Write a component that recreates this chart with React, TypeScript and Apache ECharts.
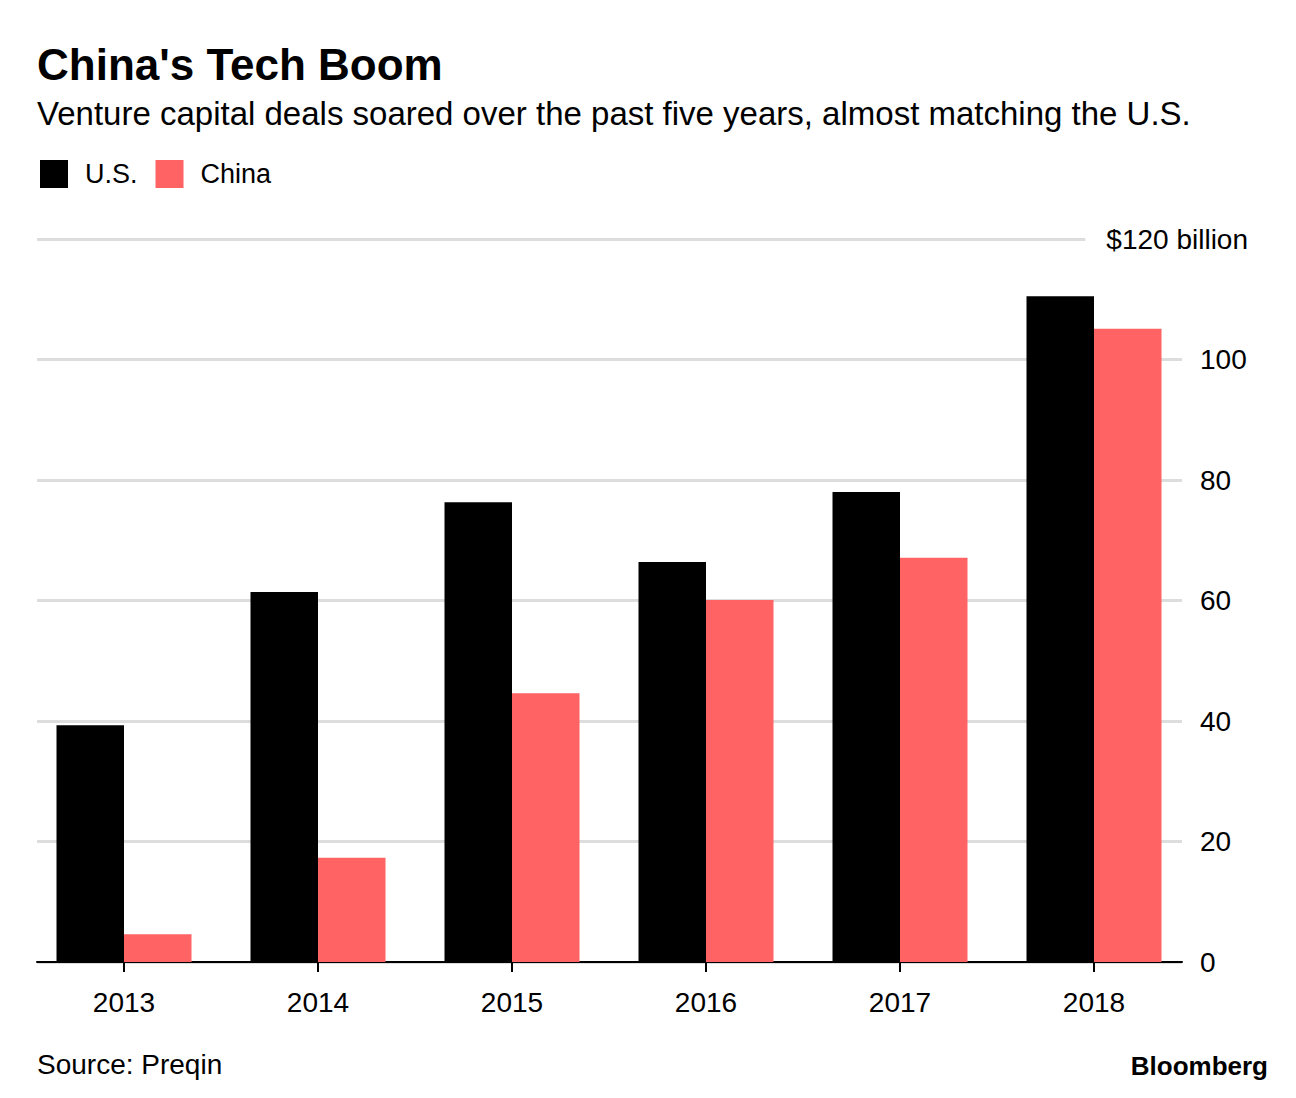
import React, { useEffect, useRef } from "react";
import * as echarts from "echarts";

const years = ["2013", "2014", "2015", "2016", "2017", "2018"];
const usValues = [39.3, 61.4, 76.3, 66.4, 78.0, 110.5];
const chinaValues = [4.6, 17.3, 44.6, 60.1, 67.1, 105.1];
const seriesNames = ["U.S.", "China"];
const yMax = 120;
const yStep = 20;

const FONT = "'Liberation Sans', Arial, Helvetica, sans-serif";

export default function App() {
  const ref = useRef<HTMLDivElement>(null);
  useEffect(() => {
    document.body.style.margin = "0";
    if (!ref.current) return;
    const chart = echarts.init(ref.current, null, { renderer: "svg" });
    chart.setOption({
      animation: false,
      backgroundColor: "#fff",
      textStyle: { fontFamily: FONT },
      legend: {
        left: 40,
        top: 160,
        padding: 0,
        itemWidth: 28,
        itemHeight: 28,
        itemGap: 18,
        icon: "rect",
        data: seriesNames,
        textStyle: { fontSize: 27, color: "#000", fontFamily: FONT, padding: [0, 0, 0, 12] },
      },
      grid: [
        { left: 37, right: 114, top: 239, bottom: 136 },
        { left: 27, right: 105, top: 239, bottom: 136 },
      ],
      xAxis: [
        {
          gridIndex: 0,
          type: "category",
          data: years,
          axisLine: { show: true, lineStyle: { color: "#000", width: 2 } },
          axisTick: { show: false },
          axisLabel: { show: false },
          splitLine: { show: false },
        },
        {
          gridIndex: 1,
          type: "category",
          data: years,
          axisLine: { show: false },
          axisTick: { show: true, alignWithLabel: true, length: 10, lineStyle: { color: "#000", width: 2 } },
          axisLabel: { fontSize: 28, color: "#000", margin: 26, fontFamily: FONT },
          splitLine: { show: false },
        },
      ],
      yAxis: [
        {
          gridIndex: 0,
          type: "value",
          position: "right",
          min: 0,
          max: yMax,
          interval: yStep,
          axisLine: { show: false },
          axisTick: { show: false },
          splitLine: { show: true, lineStyle: { color: "#dddddd", width: 3 } },
          axisLabel: {
            fontSize: 28,
            color: "#000",
            margin: 18,
            fontFamily: FONT,
            formatter: (v: number) => (v === yMax ? "" : String(v)),
          },
        },
        {
          gridIndex: 0,
          type: "value",
          position: "right",
          min: 0,
          max: yMax,
          interval: yMax,
          z: 5,
          axisLine: { show: false },
          axisTick: { show: false },
          splitLine: { show: false },
          axisLabel: {
            align: "right",
            margin: 66,
            formatter: (v: number) => (v === yMax ? "{b|$" + v + " billion}" : ""),
            rich: {
              b: {
                fontSize: 28,
                color: "#000",
                fontFamily: FONT,
                backgroundColor: "#fff",
                padding: [6, 0, 6, 21],
              },
            },
          },
        },
        { gridIndex: 1, type: "value", min: 0, max: yMax, show: false },
      ],
      series: [
        {
          type: "bar",
          name: seriesNames[0],
          xAxisIndex: 1,
          yAxisIndex: 2,
          data: usValues,
          barWidth: 67.5,
          barGap: "0%",
          itemStyle: { color: "#000000" },
        },
        {
          type: "bar",
          name: seriesNames[1],
          xAxisIndex: 1,
          yAxisIndex: 2,
          data: chinaValues,
          barWidth: 67.5,
          barGap: "0%",
          itemStyle: { color: "#ff6363" },
        },
      ],
      graphic: [
        {
          type: "text",
          left: 37,
          top: 42,
          style: { text: "China's Tech Boom", font: `bold 44px ${FONT}`, fill: "#000" },
        },
        {
          type: "text",
          left: 37,
          top: 97,
          style: {
            text: "Venture capital deals soared over the past five years, almost matching the U.S.",
            font: `33px ${FONT}`,
            fill: "#000",
          },
        },
        {
          type: "text",
          left: 37,
          top: 1050,
          style: { text: "Source: Preqin", font: `28px ${FONT}`, fill: "#000" },
        },
        {
          type: "text",
          right: 28,
          top: 1053,
          style: { text: "Bloomberg", font: `bold 26px ${FONT}`, fill: "#000" },
        },
      ],
    });
    return () => chart.dispose();
  }, []);
  return <div ref={ref} style={{ width: 1296, height: 1098 }} />;
}
